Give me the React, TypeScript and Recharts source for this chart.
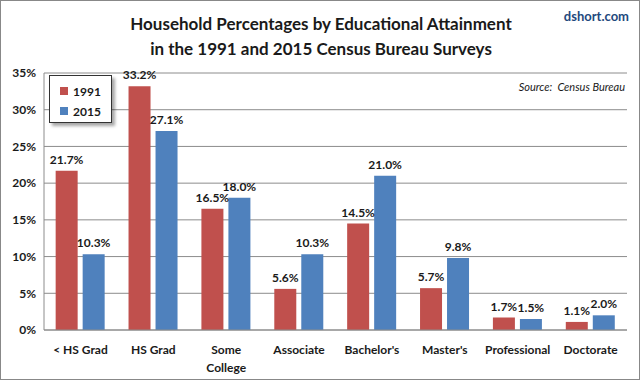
import {
  BarChart,
  Bar,
  XAxis,
  YAxis,
  CartesianGrid,
  LabelList,
} from "recharts";

const categories = [
  "< HS Grad",
  "HS Grad",
  "Some College",
  "Associate",
  "Bachelor's",
  "Master's",
  "Professional",
  "Doctorate",
];
const values1991 = [21.7, 33.2, 16.5, 5.6, 14.5, 5.7, 1.7, 1.1];
const values2015 = [10.3, 27.1, 18.0, 10.3, 21.0, 9.8, 1.5, 2.0];
const yTicks = [0, 5, 10, 15, 20, 25, 30, 35];
const seriesNames = ["1991", "2015"];

const RED = "#C0504D";
const BLUE = "#4F81BD";
const FONT = "Lato, 'Noto Sans', sans-serif";

const data = categories.map((name, i) => ({
  name,
  y1991: values1991[i],
  y2015: values2015[i],
}));

// wrap "Some College" onto two lines like the original
function CategoryTick(props: any) {
  const { x, y, payload } = props;
  const label: string = payload.value;
  const lines = label === "Some College" ? label.split(" ") : [label];
  return (
    <g transform={`translate(${x},${y})`}>
      {lines.map((ln, i) => (
        <text
          key={i}
          x={0}
          y={16 + i * 18}
          textAnchor="middle"
          fontFamily={FONT}
          fontSize={12}
          fontWeight="bold"
          fill="#1a1a1a"
        >
          {ln}
        </text>
      ))}
    </g>
  );
}

function LegendBox() {
  const colors = [RED, BLUE];
  return (
    <div
      style={{
        position: "absolute",
        left: 48,
        top: 74,
        width: 63,
        height: 48,
        background: "#fff",
        border: "1px solid #333",
        boxShadow: "3px 3px 3px rgba(0,0,0,0.35)",
        fontWeight: "bold",
        fontSize: 12,
        color: "#1a1a1a",
        boxSizing: "border-box",
        padding: "5px 0 0 10px",
        zIndex: 2,
      }}
    >
      {seriesNames.map((label, i) => (
        <div key={label} style={{ display: "flex", alignItems: "center", height: 20 }}>
          <span
            style={{
              width: 8,
              height: 8,
              background: colors[i],
              marginRight: 5,
              display: "inline-block",
            }}
          />
          {label}
        </div>
      ))}
    </div>
  );
}

const labelStyle = {
  fontSize: 12,
  fontWeight: "bold",
  fill: "#1a1a1a",
  fontFamily: FONT,
};

export default function App() {
  return (
    <div
      style={{
        position: "absolute",
        top: 0,
        left: 0,
        width: 640,
        height: 380,
        background: "#fff",
        border: "1px solid #888",
        boxSizing: "border-box",
        fontFamily: FONT,
      }}
    >
      <div
        style={{
          position: "absolute",
          top: 10,
          left: 0,
          width: 640,
          textAlign: "center",
          fontSize: 17,
          fontWeight: "bold",
          lineHeight: "25px",
          color: "#1a1a1a",
        }}
      >
        Household Percentages by Educational Attainment
        <br />
        in the 1991 and 2015 Census Bureau Surveys
      </div>
      <div
        style={{
          position: "absolute",
          top: 7,
          right: 10,
          fontSize: 13,
          fontWeight: "bold",
          color: "#1F497D",
        }}
      >
        dshort.com
      </div>
      <div
        style={{
          position: "absolute",
          top: 79,
          right: 14,
          fontSize: 11,
          fontStyle: "italic",
          color: "#1a1a1a",
          zIndex: 2,
        }}
      >
        Source:&nbsp; Census Bureau
      </div>
      <LegendBox />
      <div style={{ position: "absolute", top: -1, left: -1 }}>
        <BarChart
          width={640}
          height={380}
          data={data}
          margin={{ top: 73, right: 13, bottom: 0, left: 0 }}
          barCategoryGap="16%"
          barGap={5}
        >
          <CartesianGrid vertical={false} stroke="#8c8c8c" />
          <XAxis
            dataKey="name"
            tick={<CategoryTick />}
            tickLine={false}
            axisLine={{ stroke: "#8c8c8c" }}
            interval={0}
            height={50}
          />
          <YAxis
            width={44}
            domain={[0, 35]}
            ticks={yTicks}
            tickFormatter={(v: number) => `${v}%`}
            tick={{
              fontSize: 12,
              fontWeight: "bold",
              fill: "#1a1a1a",
              fontFamily: FONT,
            }}
            tickLine={false}
            axisLine={{ stroke: "#8c8c8c" }}
          />
          <Bar dataKey="y1991" name="1991" fill={RED} isAnimationActive={false}>
            <LabelList
              dataKey="y1991"
              position="top"
              offset={7}
              formatter={(v: number) => `${v.toFixed(1)}%`}
              style={labelStyle}
            />
          </Bar>
          <Bar dataKey="y2015" name="2015" fill={BLUE} isAnimationActive={false}>
            <LabelList
              dataKey="y2015"
              position="top"
              offset={7}
              formatter={(v: number) => `${v.toFixed(1)}%`}
              style={labelStyle}
            />
          </Bar>
        </BarChart>
      </div>
    </div>
  );
}
